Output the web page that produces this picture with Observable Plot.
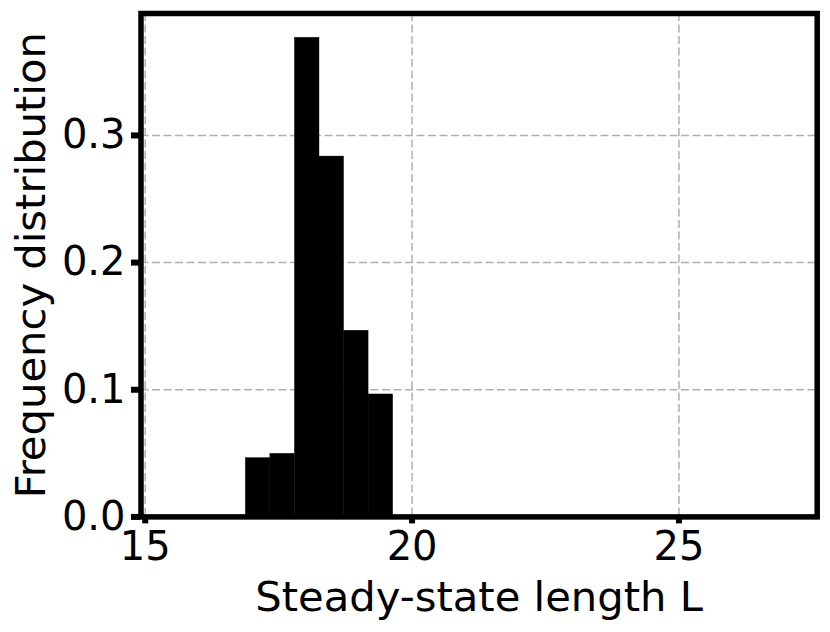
<!DOCTYPE html>
<html>
<head>
<meta charset="utf-8">
<script src="https://cdn.jsdelivr.net/npm/d3@7"></script>
<script src="https://cdn.jsdelivr.net/npm/@observablehq/plot@0.6"></script>
<style>
  html, body { margin: 0; padding: 0; background: #fff; }
  #chart svg { display: block; }
</style>
</head>
<body>
<div id="chart"></div>
<script>
const binEdges = [16.885, 17.345, 17.805, 18.265, 18.725, 19.185, 19.645];
const frequencies = [0.0462, 0.0496, 0.3768, 0.2834, 0.1464, 0.0963];
const xTicks = [15, 20, 25];
const yTicks = [0, 0.1, 0.2, 0.3];
const xLabel = "Steady-state length L";
const yLabel = "Frequency distribution";

const bins = frequencies.map((f, i) => ({x1: binEdges[i], x2: binEdges[i + 1], y: f}));

const gridStyle = {stroke: "#b0b0b0", strokeOpacity: 1, strokeWidth: 1.5, strokeDasharray: "8,3.5"};

const chart = Plot.plot({
  width: 830,
  height: 632,
  marginLeft: 140.5,
  marginRight: 13.3,
  marginTop: 13,
  marginBottom: 115.6,
  style: {fontFamily: "'DejaVu Sans', sans-serif", fontSize: "40px", color: "black", background: "white"},
  x: {domain: [14.921, 27.59]},
  y: {domain: [0, 0.3959]},
  marks: [
    Plot.gridX(xTicks, gridStyle),
    Plot.gridY(yTicks, gridStyle),
    Plot.rectY(bins, {x1: "x1", x2: "x2", y: "y", fill: "black", stroke: "black", strokeWidth: 0.4}),
    Plot.axisX({ticks: xTicks, tickSize: 7, tickPadding: 8, strokeWidth: 6, fontSize: 40,
      label: xLabel, labelAnchor: "center", labelArrow: "none", labelOffset: 93.6}),
    Plot.axisY({ticks: yTicks, tickSize: 9.5, tickPadding: 6, strokeWidth: 6, fontSize: 40,
      tickFormat: d3.format(".1f"),
      label: yLabel, labelAnchor: "center", labelArrow: "none", labelOffset: 125.5}),
    Plot.frame({stroke: "black", strokeWidth: 5.5})
  ]
});
chart.querySelectorAll("g[aria-label='x-axis label'], g[aria-label='y-axis label']").forEach(g => {
  g.setAttribute("font-size", "41.7");
  g.querySelectorAll("text").forEach(t => t.setAttribute("font-size", "41.7"));
});
document.getElementById("chart").appendChild(chart);
</script>
</body>
</html>
